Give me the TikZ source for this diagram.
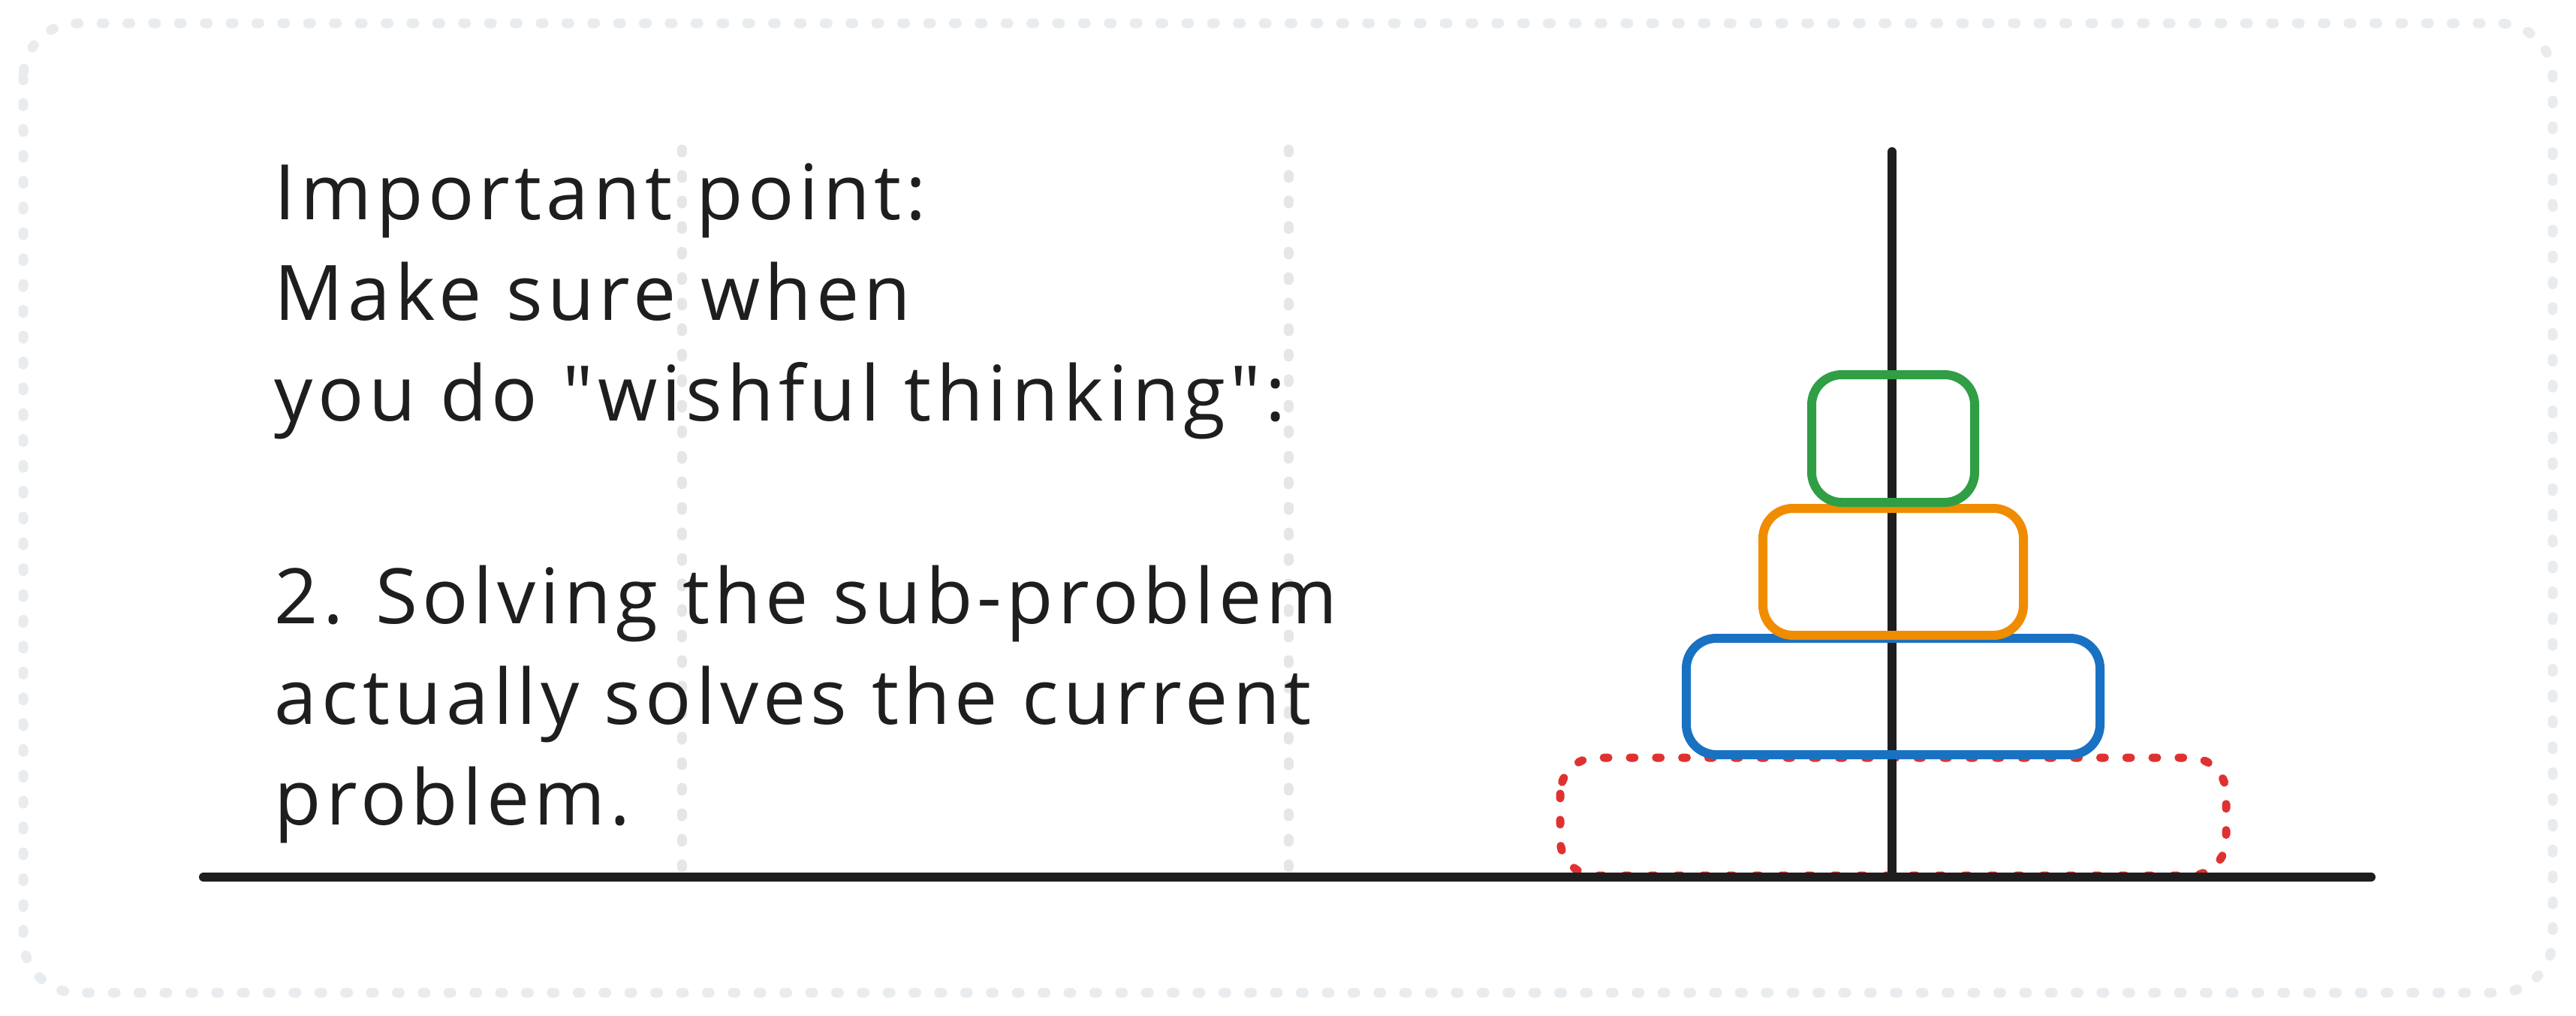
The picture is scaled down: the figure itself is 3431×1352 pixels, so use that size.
\documentclass[tikz,border=0pt]{standalone}
\usepackage{fontspec}
\setmainfont{Open Sans}[Ligatures=TeXOff,LetterSpace=6]
\definecolor{inkc}{HTML}{1E1E1E}
\definecolor{dotgray}{HTML}{E9ECEF}
\definecolor{guidegray}{HTML}{E6E6E6}
\definecolor{dgreen}{HTML}{2F9E44}
\definecolor{dorange}{HTML}{F08C00}
\definecolor{dblue}{HTML}{1971C2}
\definecolor{dred}{HTML}{E03131}
\begin{document}
\begin{tikzpicture}[x=0.25pt,y=-0.25pt,
  frame/.style={draw=dotgray,line width=3.25pt,line cap=round,dash pattern=on 1pt off 7.6pt,rounded corners=18pt},
  guide/.style={draw=guidegray,line width=3.25pt,line cap=round,dash pattern=on 1pt off 7.5pt},
  stroke/.style={draw=inkc,line width=3pt,line cap=round},
  disc/.style={line width=3pt,rounded corners=10pt},
  ghost/.style={draw=dred,line width=2.75pt,line cap=round,dash pattern=on 1.5pt off 7.2pt,rounded corners=12pt},
  txt/.style={anchor=base west,inner sep=0pt,font=\fontsize{25.5pt}{33.6pt}\selectfont,text=inkc}]
\useasboundingbox (0,0) rectangle (3431,1352);
\fill[white] (0,0) rectangle (3431,1352);
% frame
\draw[frame] (31,31) rectangle (3400,1322);
% guides
\coordinate (g1t) at (908,199);
\coordinate (g1b) at (908,1166);
\coordinate (g2t) at (1716,199);
\coordinate (g2b) at (1716,1166);
\draw[guide] (g1t) -- (g1b);
\draw[guide] (g2t) -- (g2b);
% text
\node[txt] (l1) at (365,292) {Important point:};
\node[txt] (l2) at (365,426) {Make sure when};
\node[txt] (l3) at (365,560) {you do "wishful thinking":};
\node[txt] (l5) at (365,830) {2. Solving the sub-problem};
\node[txt] (l6) at (365,964) {actually solves the current};
\node[txt] (l7) at (365,1098) {problem.};
% ghost disc
\draw[ghost] (2078,1009) rectangle (2965,1166);
% pole and base
\coordinate (pt) at (2520,202);
\coordinate (pb) at (2520,1166);
\coordinate (bl) at (271,1168);
\coordinate (br) at (3158,1168);
\draw[stroke] (pt) -- (pb);
\draw[stroke] (bl) -- (br);
% discs
\draw[disc,draw=dblue] (2246,850) rectangle (2797,1005);
\draw[disc,draw=dorange] (2348,677) rectangle (2695,846);
\draw[disc,draw=dgreen] (2413,499) rectangle (2630,669);
\end{tikzpicture}
\end{document}
